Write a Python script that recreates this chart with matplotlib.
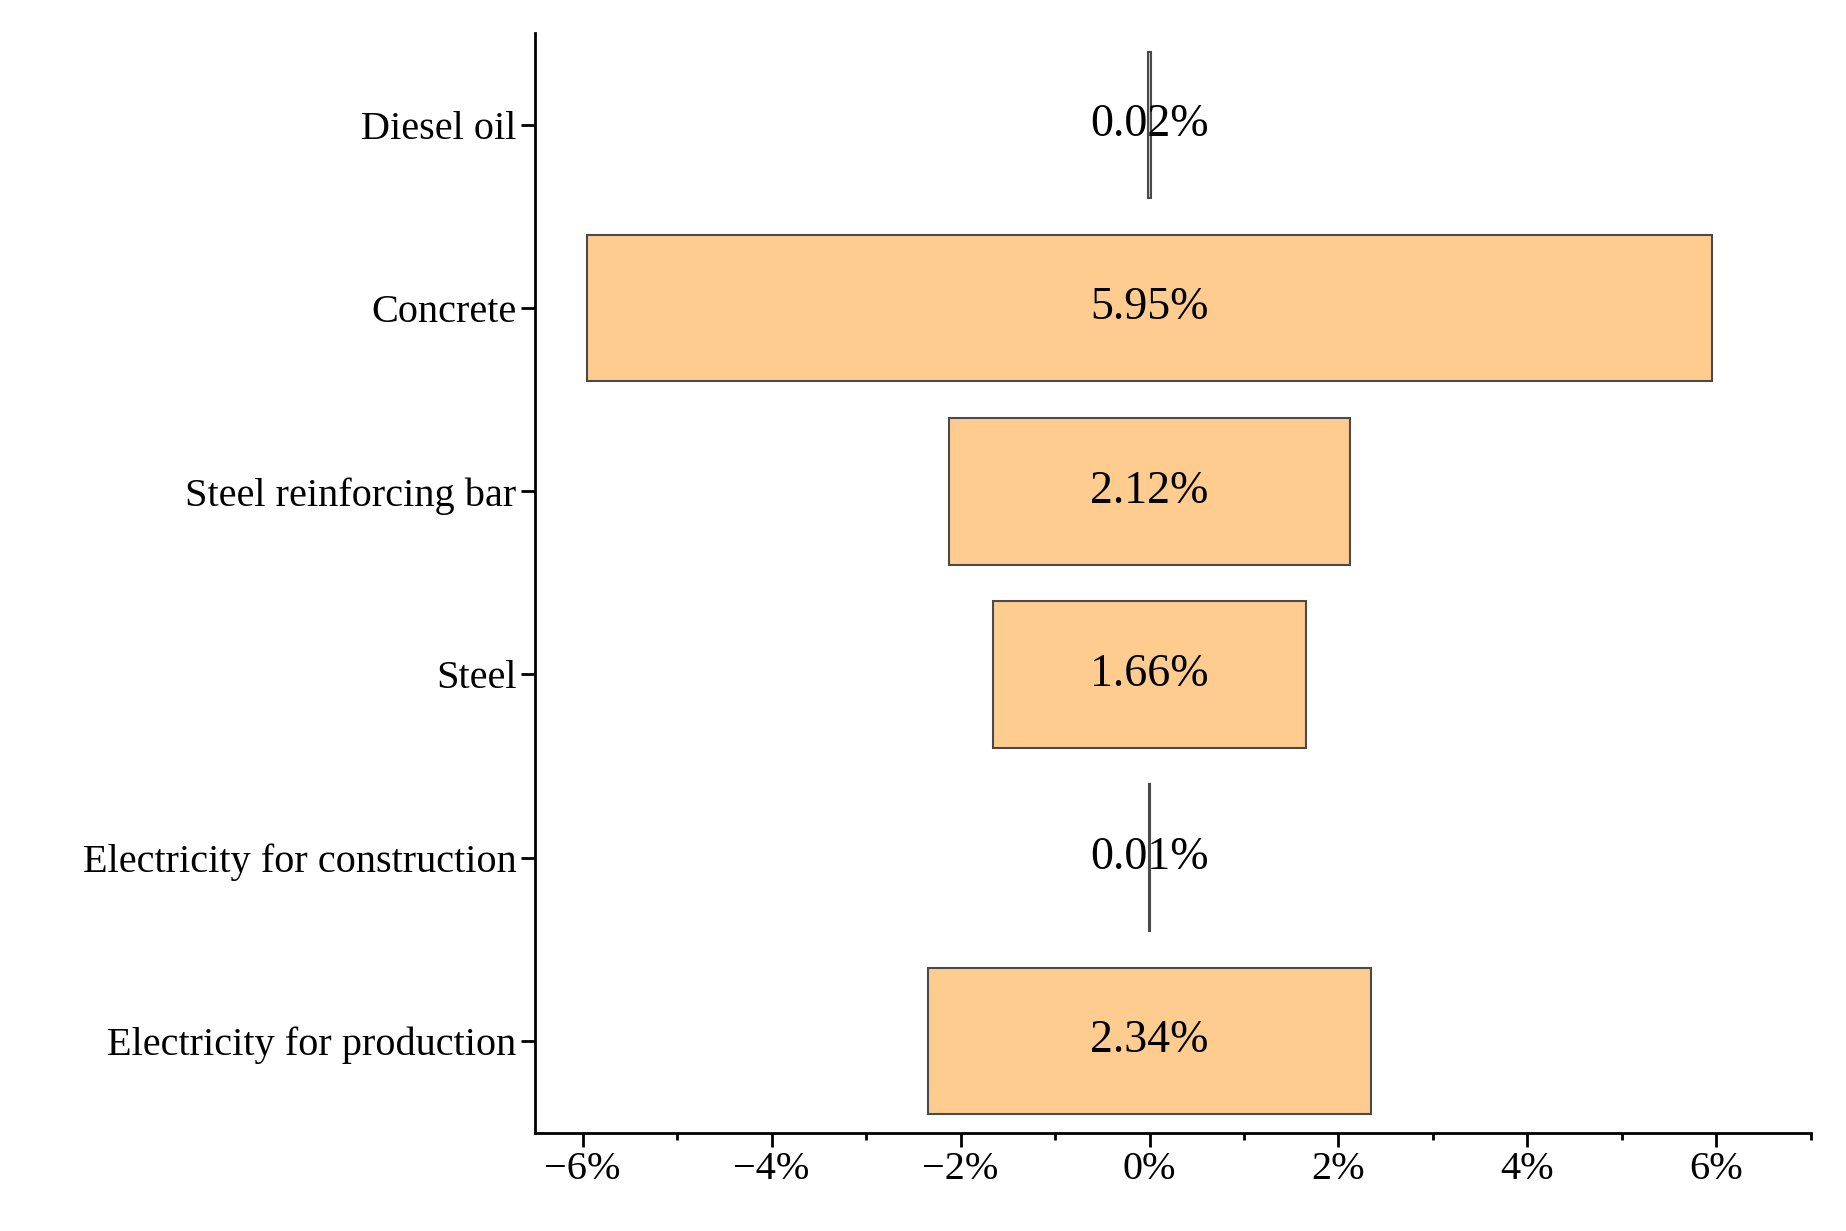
import matplotlib.pyplot as plt
from matplotlib.ticker import FuncFormatter, MultipleLocator

plt.rcParams["font.family"] = ["Liberation Serif", "DejaVu Serif"]

categorias = ["Diesel oil", "Concrete", "Steel reinforcing bar", "Steel",
              "Electricity for construction", "Electricity for production"]
valores = [0.02, 5.95, 2.12, 1.66, 0.01, 2.34]
etiquetas = ["0.02%", "5.95%", "2.12%", "1.66%", "0.01%", "2.34%"]

fig = plt.figure(figsize=(18.46, 12.31), dpi=100)
ax = fig.add_axes([0.29, 0.08, 0.691, 0.893])

posiciones = list(range(len(categorias)))
ax.barh(posiciones, [2 * v for v in valores], left=[-v for v in valores], height=0.8,
        color="#FFCC8F", edgecolor="#4a4a4a", linewidth=1.5)
for y, texto in zip(posiciones, etiquetas):
    ax.text(0, y, texto, ha="center", va="center", fontsize=33)

ax.set_ylim(len(categorias) - 0.5, -0.5)
ax.set_xlim(-6.5, 7)
ax.set_yticks(posiciones)
ax.set_yticklabels(categorias)
ax.xaxis.set_major_locator(MultipleLocator(2))
ax.xaxis.set_minor_locator(MultipleLocator(1))
ax.xaxis.set_major_formatter(FuncFormatter(lambda v, _p: f"{int(v)}%".replace("-", "\u2212")))
ax.tick_params(axis="both", labelsize=29, width=2, length=10, direction="out")
ax.tick_params(axis="x", which="minor", width=2, length=5)
for lado in ["top", "right"]:
    ax.spines[lado].set_visible(False)
for lado in ["left", "bottom"]:
    ax.spines[lado].set_linewidth(2)

fig.savefig("out.png")
